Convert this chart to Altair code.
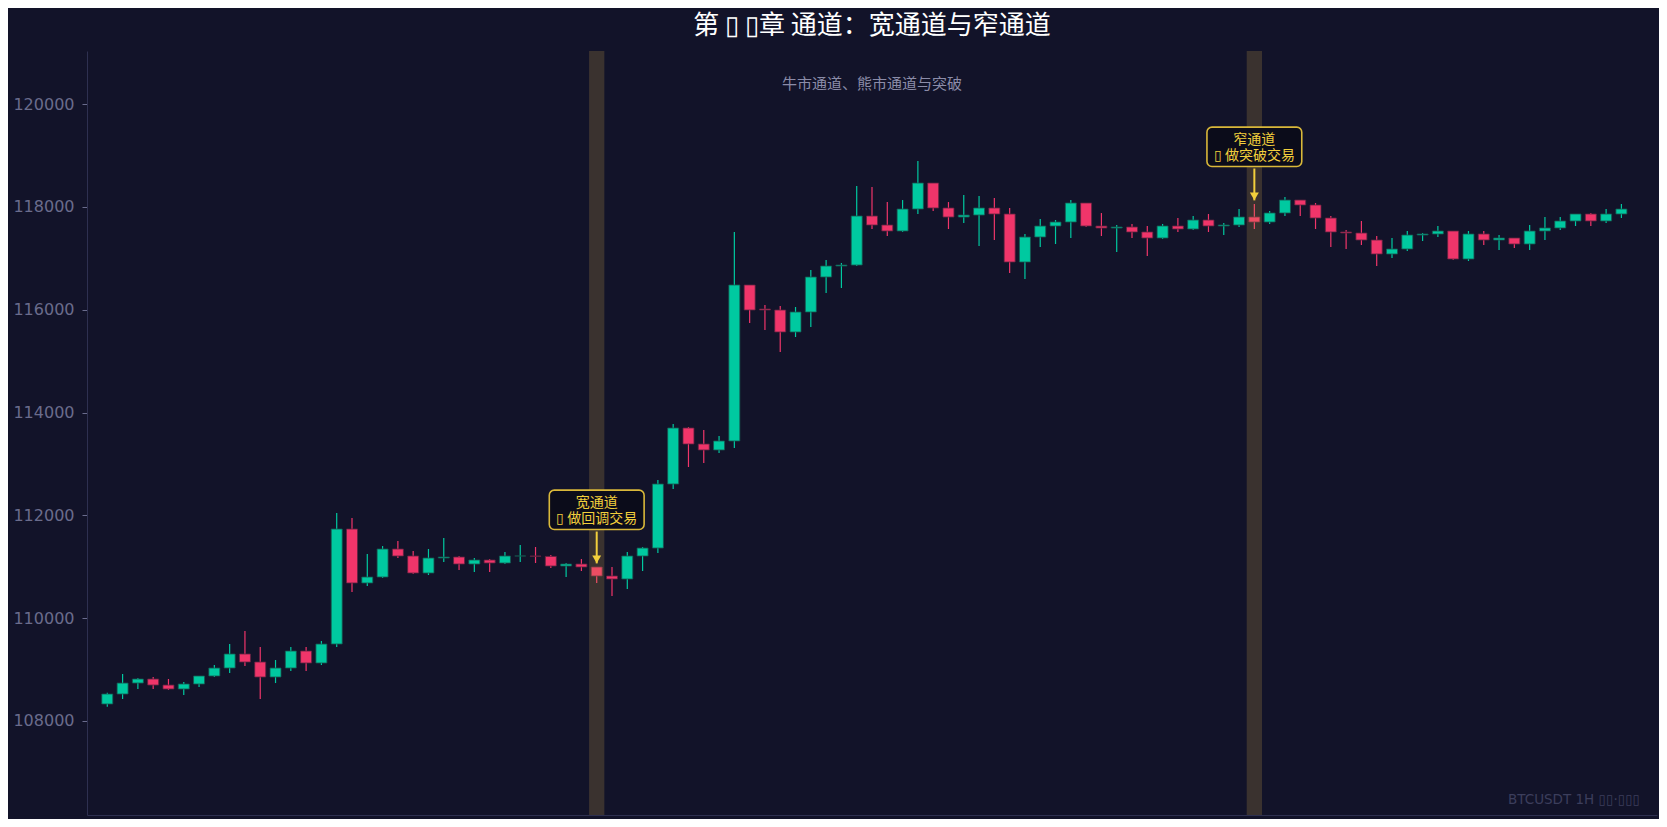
import altair as alt
import pandas as pd

opens = [108328, 108522, 108736, 108814, 108697, 108620, 108717, 108873, 109028, 109301,
         109145, 108853, 109028, 109359, 109126, 109495, 111733, 110683, 110799, 111344,
         111208, 110877, 111169, 111188, 111052, 111130, 111072, 111208, 111208, 111200,
         111013, 111052, 110994, 110819, 110760, 111208, 111363, 112609, 113699, 113387,
         113271, 113446, 116482, 116014, 115995, 115567, 115956, 116637, 116851, 116870,
         117824, 117649, 117532, 117960, 118466, 117980, 117804, 117843, 117980, 117863,
         116929, 117415, 117629, 117707, 118077, 117629, 117590, 117610, 117513, 117396,
         117630, 117571, 117746, 117630, 117649, 117805, 117707, 117883, 118135, 118038,
         117785, 117513, 117493, 117357, 117085, 117182, 117454, 117474, 117532, 116987,
         117474, 117357, 117396, 117279, 117532, 117591, 117727, 117863, 117727, 117863]
highs = [108548, 108912, 108834, 108853, 108814, 108756, 108873, 109087, 109495, 109748,
         109437, 109184, 109437, 109437, 109554, 112045, 111947, 111247, 111402, 111500,
         111305, 111344, 111558, 111208, 111169, 111149, 111286, 111422, 111383, 111227,
         111072, 111149, 110994, 110994, 111286, 111383, 112687, 113777, 113718, 113660,
         113543, 117513, 116482, 116092, 116073, 116053, 116773, 116968, 116910, 118408,
         118389, 118097, 118135, 118894, 118466, 118096, 118233, 118213, 118174, 117980,
         117474, 117766, 117746, 118135, 118077, 117882, 117649, 117668, 117629, 117669,
         117785, 117824, 117863, 117688, 117960, 118058, 117921, 118194, 118135, 118077,
         117824, 117552, 117727, 117435, 117396, 117532, 117493, 117630, 117532, 117532,
         117532, 117454, 117396, 117649, 117805, 117805, 117863, 117883, 117960, 118058]
lows = [108276, 108425, 108620, 108620, 108600, 108503, 108659, 108853, 108931, 109067,
        108425, 108736, 108970, 108970, 109087, 109437, 110507, 110624, 110780, 111169,
        110857, 110838, 111091, 110935, 110896, 110896, 111052, 111091, 111072, 110974,
        110799, 110916, 110682, 110429, 110566, 110916, 111266, 112512, 112940, 113018,
        113212, 113310, 115742, 115606, 115178, 115470, 115664, 116326, 116423, 116851,
        117571, 117435, 117513, 117863, 117921, 117571, 117688, 117240, 117357, 116715,
        116598, 117221, 117279, 117396, 117610, 117435, 117123, 117396, 117046, 117376,
        117513, 117552, 117513, 117454, 117610, 117571, 117668, 117824, 117824, 117571,
        117221, 117182, 117260, 116851, 117007, 117143, 117338, 117415, 116968, 116948,
        117260, 117163, 117202, 117163, 117357, 117552, 117630, 117630, 117688, 117785]
closes = [108522, 108736, 108814, 108697, 108620, 108717, 108873, 109028, 109301, 109145,
          108853, 109028, 109359, 109126, 109495, 111733, 110683, 110799, 111344, 111208,
          110877, 111169, 111188, 111052, 111130, 111072, 111208, 111208, 111203, 111013,
          111052, 110994, 110819, 110760, 111208, 111363, 112609, 113699, 113387, 113271,
          113446, 116482, 115995, 115995, 115567, 115956, 116637, 116851, 116870, 117824,
          117649, 117532, 117960, 118466, 117980, 117804, 117843, 117980, 117863, 116929,
          117415, 117629, 117707, 118077, 117629, 117590, 117610, 117513, 117396, 117630,
          117571, 117746, 117630, 117649, 117805, 117707, 117883, 118135, 118038, 117785,
          117513, 117493, 117357, 117085, 117182, 117454, 117474, 117532, 116987, 117474,
          117357, 117396, 117279, 117532, 117591, 117727, 117863, 117727, 117863, 117960]

band_idx = [32, 75]
ann_idx = [32, 75]
ann_text = ["宽通道\n▯ 做回调交易", "窄通道\n▯ 做突破交易"]
y_ticks = [108000, 110000, 112000, 114000, 116000, 118000, 120000]

title_text = "第 ▯ ▯章 通道：宽通道与窄通道"
subtitle_text = "牛市通道、熊市通道与突破"
watermark_text = "BTCUSDT 1H  ▯▯·▯▯▯"

BG = "#121329"
UP = "#00c9a0"
DOWN = "#f0356a"
GOLD = "#f2cf3c"

W, H = 1570, 764

df = pd.DataFrame({"i": list(range(len(opens))), "open": opens, "high": highs,
                   "low": lows, "close": closes})
df["dir"] = ["up" if c >= o else "down" for o, c in zip(opens, closes)]

xs = alt.Scale(domain=[-1, 101], nice=False, zero=False)
ys = alt.Scale(domain=[106168, 121035], nice=False, zero=False)
xax = alt.Axis(labels=False, ticks=False, title=None, grid=False,
               domainColor="#2e3050", domainWidth=1)
yax = alt.Axis(values=y_ticks, format="d", title=None, grid=False,
               labelColor="#6a6c8c", labelFont="DejaVu Sans",
               labelFontSize=16, labelPadding=8,
               tickColor="#6a6c8c", tickSize=5,
               domainColor="#2e3050", domainWidth=1)
cscale = alt.Scale(domain=["up", "down"], range=[UP, DOWN])
sscale = alt.Scale(domain=["up", "down"], range=["#17554f", "#5e2340"])


def X(field):
    return alt.X(field, scale=xs, axis=xax, title=None)


def Y(field):
    return alt.Y(field, scale=ys, axis=yax, title=None)


base = alt.Chart(df)
wick = base.mark_rule(strokeWidth=1.2).encode(
    x=X("i:Q"), y=Y("low:Q"), y2="high:Q",
    color=alt.Color("dir:N", scale=cscale, legend=None),
)
body = base.mark_bar(size=11, strokeWidth=0.8).encode(
    x=X("i:Q"), y=Y("open:Q"), y2="close:Q",
    color=alt.Color("dir:N", scale=cscale, legend=None),
    stroke=alt.Stroke("dir:N", scale=sscale, legend=None),
)

bands = alt.Chart(pd.DataFrame({"i": band_idx})).transform_calculate(
    x0="datum.i - 0.5", x1="datum.i + 0.5"
).mark_rect(color="#daae4c", opacity=0.2).encode(
    x=X("x0:Q"), x2="x1:Q",
    y=alt.value(0), y2=alt.value(H),
)

ann = pd.DataFrame({"i": ann_idx, "text": ann_text,
                    "high": [highs[k] for k in ann_idx]})
ann_base = alt.Chart(ann).transform_calculate(
    a1="datum.high + 70", a0="datum.high + 690",
    b0="datum.high + 730", b1="datum.high + 1495",
    bm="datum.high + 1245",
    bx0="datum.i - 3.1", bx1="datum.i + 3.1",
)
arrow_line = ann_base.mark_rule(color=GOLD, strokeWidth=2).encode(
    x=X("i:Q"), y=Y("a0:Q"), y2="a1:Q",
)
arrow_head = ann_base.mark_point(shape="triangle-down", filled=True, color=GOLD,
                                 size=80, opacity=1, yOffset=-4).encode(
    x=X("i:Q"), y=Y("a1:Q"),
)
box = ann_base.mark_rect(fill="#0b0c1a", stroke="#d9b83a", strokeWidth=1.6,
                         cornerRadius=5).encode(
    x=X("bx0:Q"), x2="bx1:Q", y=Y("b0:Q"), y2="b1:Q",
)
box_text = ann_base.mark_text(color=GOLD, font="Noto Sans CJK SC", fontSize=14,
                              lineBreak="\n", lineHeight=16, align="center",
                              baseline="middle").encode(
    x=X("i:Q"), y=Y("bm:Q"), text="text:N",
)

subtitle = alt.Chart(pd.DataFrame({"t": [subtitle_text]})).mark_text(
    color="#8b8ca8", font="Noto Sans CJK SC", fontSize=15, align="center", baseline="middle"
).encode(x=alt.value(W / 2), y=alt.value(33), text="t:N")

watermark = alt.Chart(pd.DataFrame({"t": [watermark_text]})).mark_text(
    color="#3c3e5c", font="DejaVu Sans", fontSize=13.5, align="right", baseline="middle"
).encode(x=alt.value(W - 17), y=alt.value(H - 15), text="t:N")

chart = alt.layer(wick, body, bands, arrow_line, arrow_head, box, box_text,
                  subtitle, watermark).properties(
    width=W, height=H,
    background=BG,
    padding={"left": 79, "top": 43, "right": 2, "bottom": 4},
    autosize=alt.AutoSizeParams(type="none"),
    title=alt.TitleParams(title_text, fontSize=26, color="#ffffff", font="Noto Sans CJK SC",
                          fontWeight="normal", anchor="middle", offset=12),
).configure_view(stroke=None, fill=BG)

chart.save("out.html", embed_options={"renderer": "svg", "actions": False})
